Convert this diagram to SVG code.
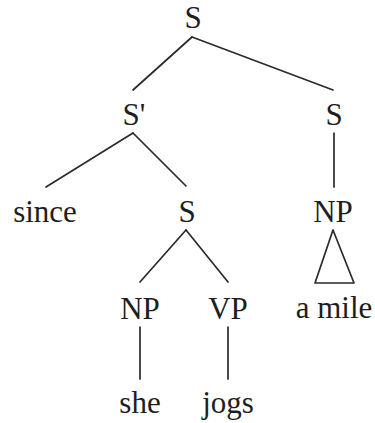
<svg xmlns="http://www.w3.org/2000/svg" width="375" height="423" viewBox="0 0 375 423">
<style>
text{font-family:"Liberation Serif","Times New Roman",serif;font-size:31px;fill:#1e1e1e;text-anchor:middle}
.e{stroke:#2a2a2a;stroke-width:1.7;fill:none;stroke-linecap:round;stroke-linejoin:round}
</style>
<rect width="375" height="423" fill="#fff"/>
<g id="connectors">
<line class="e" x1="192" y1="37" x2="133" y2="90"/>
<line class="e" x1="192" y1="37" x2="333" y2="90"/>
<line class="e" x1="133" y1="133" x2="46" y2="187"/>
<line class="e" x1="133" y1="133" x2="186" y2="186"/>
<line class="e" x1="334" y1="133" x2="334" y2="187"/>
<line class="e" x1="186" y1="230" x2="140" y2="282"/>
<line class="e" x1="186" y1="230" x2="228" y2="282"/>
<polygon class="e" points="333,230 315,283 354,283"/>
<line class="e" x1="140" y1="327" x2="140" y2="379"/>
<line class="e" x1="228" y1="327" x2="228" y2="379"/>
</g>
<g id="n-S-root"><text x="193" y="28">S</text></g>
<g id="n-Sbar"><text x="134" y="125">S'</text></g>
<g id="n-S-right"><text x="334" y="125">S</text></g>
<g id="n-since"><text x="45" y="222">since</text></g>
<g id="n-S-mid"><text x="187" y="222">S</text></g>
<g id="n-NP-right"><text x="333" y="222">NP</text></g>
<g id="n-NP"><text x="140" y="319">NP</text></g>
<g id="n-VP"><text x="228" y="319">VP</text></g>
<g id="n-amile"><text x="334" y="318">a mile</text></g>
<g id="n-she"><text x="140" y="413">she</text></g>
<g id="n-jogs"><text x="228" y="413">jogs</text></g>
</svg>
